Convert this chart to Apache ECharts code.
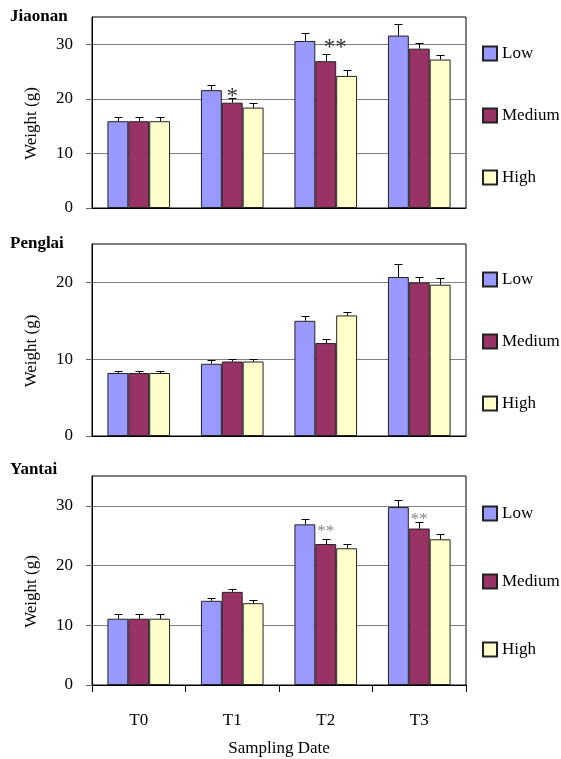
<!DOCTYPE html>
<html><head><meta charset="utf-8">
<script src="https://cdn.jsdelivr.net/npm/echarts@6/dist/echarts.min.js"></script>
<style>html,body{margin:0;padding:0;background:#fff}#c{width:561px;height:759px}</style>
</head><body><div id="c"></div><script>
// ---------- data ----------
const categories = ['T0', 'T1', 'T2', 'T3'];
const groups = ['Low', 'Medium', 'High'];
const sites = ['Jiaonan', 'Penglai', 'Yantai'];

const jiaonanLow = [15.9, 21.6, 30.6, 31.6];
const jiaonanMedium = [15.9, 19.3, 26.9, 29.2];
const jiaonanHigh = [15.9, 18.4, 24.2, 27.2];
const jiaonanLowErr = [0.8, 1.0, 1.4, 2.1];
const jiaonanMediumErr = [0.8, 0.8, 1.3, 1.1];
const jiaonanHighErr = [0.8, 0.9, 1.0, 0.8];

const penglaiLow = [8.2, 9.4, 15.0, 20.7];
const penglaiMedium = [8.2, 9.7, 12.1, 20.0];
const penglaiHigh = [8.2, 9.7, 15.7, 19.7];
const penglaiLowErr = [0.3, 0.45, 0.65, 1.65];
const penglaiMediumErr = [0.3, 0.3, 0.55, 0.65];
const penglaiHighErr = [0.3, 0.3, 0.4, 0.9];

const yantaiLow = [11.1, 14.1, 26.9, 29.8];
const yantaiMedium = [11.1, 15.6, 23.6, 26.2];
const yantaiHigh = [11.1, 13.7, 22.9, 24.4];
const yantaiLowErr = [0.85, 0.5, 0.95, 1.15];
const yantaiMediumErr = [0.85, 0.5, 0.85, 1.15];
const yantaiHighErr = [0.85, 0.55, 0.75, 0.95];

const jiaonanTicks = [0, 10, 20, 30];
const penglaiTicks = [0, 10, 20];
const yantaiTicks = [0, 10, 20, 30];
const axisMax = [35, 25, 35];

// significance marks: [category index, bar slot, value, text]
const jiaonanMarks = [[1, 1, 21.2, '*'], [2, 1.45, 30.3, '**']];
const penglaiMarks = [];
const yantaiMarks = [[2, 1, 26.3, '**'], [3, 1, 28.3, '**']];

// ---------- build ----------
const panels = [
  { vals: [jiaonanLow, jiaonanMedium, jiaonanHigh], errs: [jiaonanLowErr, jiaonanMediumErr, jiaonanHighErr], ticks: jiaonanTicks, marks: jiaonanMarks },
  { vals: [penglaiLow, penglaiMedium, penglaiHigh], errs: [penglaiLowErr, penglaiMediumErr, penglaiHighErr], ticks: penglaiTicks, marks: penglaiMarks },
  { vals: [yantaiLow, yantaiMedium, yantaiHigh], errs: [yantaiLowErr, yantaiMediumErr, yantaiHighErr], ticks: yantaiTicks, marks: yantaiMarks }
];

const FONT = '"Liberation Serif", "Times New Roman", serif';
const colors = ['#9999FF', '#993366', '#FFFFCC'];
const CAT_GAP = 0.33;
const gridTops = [17, 244, 476];
const gridHeights = [191, 192, 209];
const legendTops = [45, 271, 505];
const legendGaps = [45, 45, 51];
const titleTops = [8, 235, 461];
const markSizes = [23, 22, 17];
const markColors = ['#333', '#333', '#888'];

function errRender(slot) {
  return function (params, api) {
    const cat = api.value(0), val = api.value(1), err = api.value(2);
    const base = api.coord([cat, val]);
    const top = api.coord([cat, val + err]);
    const band = api.size([1, 0])[0];
    const bw = band * (1 - CAT_GAP) / 3;
    const x = Math.round(base[0] + (slot - 1) * bw) + 0.5;
    const yt = Math.round(top[1]) + 0.5;
    return {
      type: 'group', children: [
        { type: 'line', shape: { x1: x, y1: base[1], x2: x, y2: yt }, style: { stroke: '#000', lineWidth: 1 } },
        { type: 'line', shape: { x1: x - 4, y1: yt, x2: x + 4, y2: yt }, style: { stroke: '#000', lineWidth: 1 } }
      ]
    };
  };
}

function markRender(size, color) {
  return function (params, api) {
    const cat = api.value(0), slot = api.value(1), val = api.value(2);
    const p = api.coord([cat, val]);
    const band = api.size([1, 0])[0];
    const bw = band * (1 - CAT_GAP) / 3;
    const x = p[0] + (slot - 1) * bw;
    return {
      type: 'text',
      style: {
        text: api.value(3), x: x, y: p[1] + size * 0.22,
        fontFamily: FONT, fontSize: size, fill: color,
        align: 'center', verticalAlign: 'middle'
      }
    };
  };
}

const grid = [], xAxis = [], yAxis = [], series = [], legend = [], title = [];
panels.forEach((pn, k) => {
  grid.push({ left: 92, width: 374, top: gridTops[k], height: gridHeights[k], show: true, borderColor: '#000', borderWidth: 1, backgroundColor: 'transparent' });
  const last = k === panels.length - 1;
  xAxis.push({
    type: 'category', gridIndex: k, data: categories,
    axisLine: { lineStyle: { color: '#000', width: 1 } },
    axisTick: { show: last, length: 7, interval: 0, lineStyle: { color: '#000' } },
    axisLabel: { show: last, margin: 27, fontFamily: FONT, fontSize: 17, color: '#000' },
    name: last ? 'Sampling Date' : '', nameLocation: 'middle', nameGap: 55,
    nameTextStyle: { fontFamily: FONT, fontSize: 17, color: '#000' }
  });
  yAxis.push({
    type: 'value', gridIndex: k, min: 0, max: axisMax[k], interval: 10,
    axisLine: { show: true, lineStyle: { color: '#000' } },
    axisTick: { show: true, length: 6, customValues: pn.ticks, lineStyle: { color: '#666' } },
    axisLabel: { customValues: pn.ticks, margin: 19, fontFamily: FONT, fontSize: 17, color: '#000' },
    splitLine: { show: true, lineStyle: { color: '#808080', width: 1 } },
    name: 'Weight (g)', nameLocation: 'middle', nameGap: 52,
    nameTextStyle: { fontFamily: FONT, fontSize: 17, color: '#000', padding: [0, 22, 0, 0] }
  });
  groups.forEach((g, i) => {
    series.push({
      name: g, type: 'bar', xAxisIndex: k, yAxisIndex: k,
      data: pn.vals[i], barGap: '0%', barCategoryGap: (CAT_GAP * 100) + '%',
      itemStyle: { color: colors[i], borderColor: '#222', borderWidth: 1 },
      emphasis: { disabled: true }, z: 2
    });
  });
  groups.forEach((g, i) => {
    series.push({
      type: 'custom', xAxisIndex: k, yAxisIndex: k, z: 3, silent: true,
      renderItem: errRender(i),
      data: pn.vals[i].map((v, c) => [c, v, pn.errs[i][c]])
    });
  });
  if (pn.marks.length) {
    series.push({
      type: 'custom', xAxisIndex: k, yAxisIndex: k, z: 4, silent: true,
      renderItem: markRender(markSizes[k], markColors[k]),
      encode: { x: 0, y: 2 },
      data: pn.marks
    });
  }
  legend.push({
    data: groups, orient: 'vertical', left: 482, top: legendTops[k], padding: 0,
    itemWidth: 14, itemHeight: 14, itemGap: legendGaps[k], icon: 'rect',
    selectedMode: false,
    textStyle: { fontFamily: FONT, fontSize: 17, color: '#000' }
  });
  title.push({
    text: sites[k], left: 10, top: titleTops[k], padding: 0,
    textStyle: { fontFamily: FONT, fontSize: 17, fontWeight: 'bold', color: '#000' }
  });
});

const chart = echarts.init(document.getElementById('c'));
chart.setOption({ animation: false, backgroundColor: '#fff', title, legend, grid, xAxis, yAxis, series });
</script></body></html>
